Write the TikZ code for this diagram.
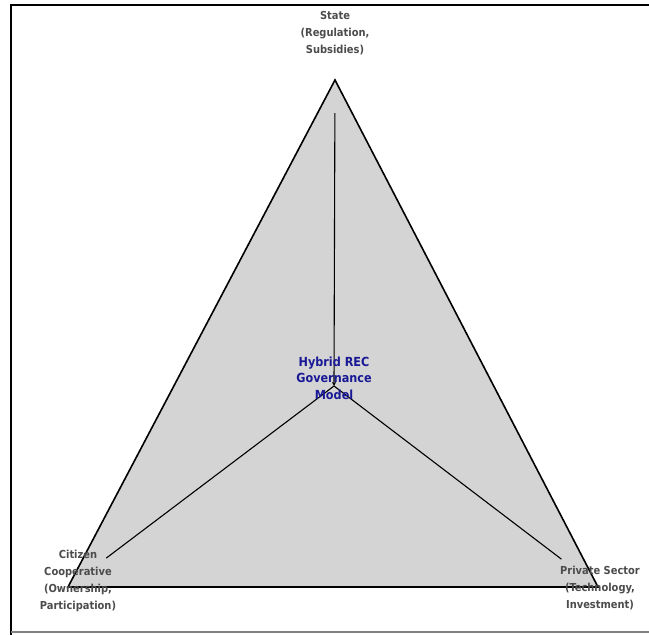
\documentclass[tikz,border=0pt]{standalone}
\usepackage{fontspec}
\setsansfont{DejaVu Sans Condensed}
\usepackage{tikz}
\usetikzlibrary{arrows.meta}
\usepackage{xcolor}
\definecolor{labelgray}{gray}{0.3}
\definecolor{hybridblue}{RGB}{25,25,150}
\definecolor{fillgray}{gray}{0.83}

\begin{document}
\begin{tikzpicture}[x=1pt, y=-1pt, every node/.style={font=\sffamily\bfseries\fontsize{11}{17}\selectfont, align=center, text=labelgray, inner sep=1pt}, link/.style={line width=1.1pt}]
  \useasboundingbox (0,0) rectangle (649,635);
  % frame
  \draw[line width=1.8pt] (11,635) -- (11,5) -- (649,5);
  \draw[gray, line width=1.4pt] (11,632) -- (649,632);

  \coordinate (S) at (335,80);
  \coordinate (C) at (68,587);
  \coordinate (P) at (598,587);
  \coordinate (H) at (334,386);

  \filldraw[fill=fillgray, line width=1.6pt] (S) -- (C) -- (P) -- cycle;

  \draw[link, shorten <=33pt, -{Stealth[length=4pt,width=4pt]}] (S) -- (H);
  \draw[link, shorten <=48pt] (C) -- (H);
  \draw[link, shorten <=46pt] (P) -- (H);

  \node[text=hybridblue, font=\sffamily\bfseries\fontsize{12.5}{16.5}\selectfont] (hybrid) at (334,378) {Hybrid REC\\Governance\\Model};
  \node (state) at (335,33) {State\\(Regulation,\\Subsidies)};
  \node (citizen) at (78,581) {Citizen\\Cooperative\\(Ownership,\\Participation)};
  \node (private) at (600,588) {Private Sector\\(Technology,\\Investment)};
\end{tikzpicture}
\end{document}
